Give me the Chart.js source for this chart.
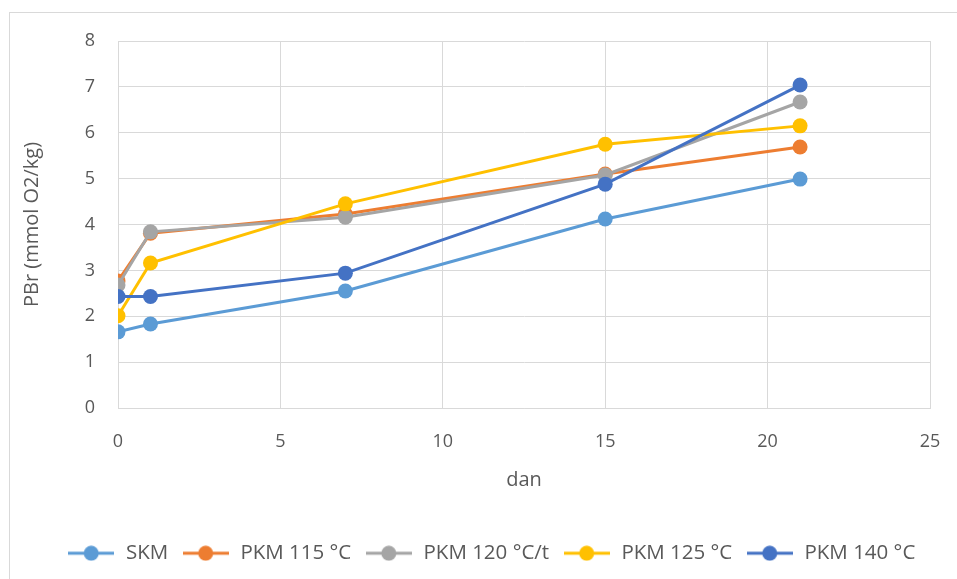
<!DOCTYPE html>
<html><head><meta charset="utf-8">
<script src="https://cdn.jsdelivr.net/npm/chart.js@4.4.0/dist/chart.umd.min.js"></script>
<style>
html,body{margin:0;padding:0;background:#fff;overflow:hidden}
#frame{position:absolute;left:9px;top:12px;width:1000px;height:700px;border:1px solid #d9d9d9;box-sizing:border-box}
#wrap{position:absolute;left:0;top:0;width:957px;height:579px}
</style></head><body>
<div id="frame"></div>
<div id="wrap"><canvas id="c" width="957" height="579"></canvas></div>
<script>
const days = [0, 1, 7, 15, 21];
const seriesNames = ['SKM', 'PKM 115 °C', 'PKM 120 °C/t', 'PKM 125 °C', 'PKM 140 °C'];
const skm    = [1.66, 1.83, 2.55, 4.12, 4.99];
const pkm115 = [2.77, 3.81, 4.23, 5.10, 5.69];
const pkm120 = [2.68, 3.84, 4.16, 5.08, 6.67];
const pkm125 = [2.01, 3.16, 4.45, 5.75, 6.15];
const pkm140 = [2.43, 2.43, 2.94, 4.88, 7.04];
const colors = ['#5B9BD5', '#ED7D31', '#A5A5A5', '#FFC000', '#4472C4'];
const xTitle = 'dan';
const yTitle = 'PBr (mmol O2/kg)';

const allValues = [skm, pkm115, pkm120, pkm125, pkm140];
const datasets = allValues.map((vals, i) => ({
  label: seriesNames[i],
  data: days.map((d, j) => ({x: d, y: vals[j]})),
  borderColor: colors[i],
  backgroundColor: colors[i],
  borderWidth: 3,
  pointRadius: 7.5,
  pointHoverRadius: 7.5,
  pointBorderWidth: 0,
  tension: 0,
  order: allValues.length - 1 - i
}));

function legendIcon(color){
  const cv = document.createElement('canvas');
  cv.width = 46; cv.height = 16;
  const g = cv.getContext('2d');
  g.strokeStyle = color; g.lineWidth = 3;
  g.beginPath(); g.moveTo(0, 8); g.lineTo(46, 8); g.stroke();
  g.fillStyle = color;
  g.beginPath(); g.arc(23, 8, 7.5, 0, Math.PI*2); g.fill();
  return cv;
}
const icons = colors.map(legendIcon);

const legendFix = {
  id: 'legendFix',
  beforeInit(chart){
    const lg = chart.legend;
    if (lg) {
      const orig = lg.fit;
      lg.fit = function(){ orig.call(this); this.height = 49; };
    }
  },
  afterLayout(chart){
    const lg = chart.legend;
    if (lg) { lg.left += 26; lg.right += 26; }
  }
};

const FONT = "'Open Sans', sans-serif";
new Chart(document.getElementById('c'), {
  type: 'line',
  data: { datasets },
  options: {
    responsive: false,
    animation: false,
    devicePixelRatio: 1,
    layout: { padding: { left: 0, top: 41, right: 27, bottom: 0 } },
    plugins: {
      tooltip: { enabled: false },
      legend: {
        position: 'bottom',
        labels: {
          usePointStyle: true,
          pointStyleWidth: 49,
          padding: 13,
          color: '#595959',
          font: { family: FONT, size: 20.5 },
          generateLabels(chart){
            return chart.data.datasets.map((ds, i) => ({
              text: ds.label,
              fillStyle: colors[i],
              strokeStyle: colors[i],
              lineWidth: 0,
              pointStyle: icons[i],
              datasetIndex: i,
              hidden: false,
              fontColor: '#595959'
            }));
          }
        }
      }
    },
    scales: {
      x: {
        type: 'linear',
        min: 0, max: 25,
        ticks: { stepSize: 5, color: '#595959', font: { family: FONT, size: 18 }, padding: 23 },
        grid: { color: '#d9d9d9', lineWidth: 1, drawTicks: false },
        border: { color: '#d9d9d9' },
        title: { display: true, text: xTitle, color: '#595959', font: { family: FONT, size: 20 }, padding: { top: 4, bottom: 38 } },
        afterFit(s){ s.height = 122; s.paddingLeft = 0; s.paddingRight = 0; }
      },
      y: {
        min: 0, max: 8,
        ticks: { stepSize: 1, color: '#595959', font: { family: FONT, size: 18 }, padding: 23 },
        grid: { color: '#d9d9d9', lineWidth: 1, drawTicks: false },
        border: { color: '#d9d9d9' },
        title: { display: true, text: yTitle, color: '#595959', font: { family: FONT, size: 20 }, padding: { top: 20, bottom: 0 } },
        afterFit(s){ s.width = 118; s.paddingTop = 0; s.paddingBottom = 0; }
      }
    }
  },
  plugins: [legendFix]
});
</script>
</body></html>
